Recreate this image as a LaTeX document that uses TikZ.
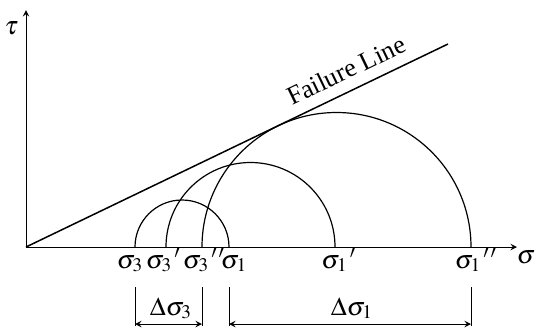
\documentclass[tikz,border=0pt]{standalone}
\usepackage{mathptmx}
\usepackage{fontspec}
\setmainfont{Liberation Serif}
\usetikzlibrary{positioning, arrows}

\begin{document}
\begin{tikzpicture}[>=stealth, x=0.5pt, y=0.5pt, font=\fontsize{13}{15}\selectfont,
    circ/.style={line width=0.6pt},
    dimline/.style={line width=0.45pt},
    lbl/.style={anchor=base, inner sep=0pt}]
  \useasboundingbox (0,0) rectangle (536,329);

  % Axes
  \coordinate (O) at (26,82);
  \coordinate (xend) at (517,82);
  \coordinate (yend) at (26,319);
  \draw[->, line width=0.45pt] (O) -- (xend);
  \draw[->, line width=0.45pt] (O) -- (yend);
  \node (tau) at (11.5,301) {$\tau$};
  \node (sig) at (526,72) {$\sigma$};

  % Failure line
  \coordinate (fl) at (448,285);
  \draw[line width=0.75pt] (O) -- (fl)
    node (fltext) [pos=0.78, sloped, above=2pt] {Failure Line};

  % Mohr circles
  \coordinate (a1) at (135,82);
  \coordinate (b1) at (229,82);
  \coordinate (a2) at (166,82);
  \coordinate (b2) at (335,82);
  \coordinate (a3) at (202,82);
  \coordinate (b3) at (471,82);
  \draw[circ] (b1) arc[start angle=0, end angle=180, radius=47];
  \draw[circ] (b2) arc[start angle=0, end angle=180, radius=84.5];
  \draw[circ] (b3) arc[start angle=0, end angle=180, radius=134.5];

  % Principal stresses
  \node (s3a) [lbl] at (130,61) {$\sigma_3$};
  \node (s3b) [lbl] at (159,61) {$\sigma_3\rlap{$^{\,\prime}$}$};
  \node (s3c) [lbl] at (196,61) {$\sigma_3\rlap{$^{\,\prime\,\prime}$}$};
  \node (s1a) [lbl] at (234,61) {$\sigma_1$};
  \node (s1b) [lbl] at (334.5,61) {$\sigma_1\rlap{$^{\,\prime}$}$};
  \node (s1c) [lbl] at (468,61) {$\sigma_1\rlap{$^{\,\prime\,\prime}$}$};

  % Stress increments
  \coordinate (d3lt) at (135,42);
  \coordinate (d3lb) at (135,3);
  \coordinate (d3rt) at (202,42);
  \coordinate (d3rb) at (202,3);
  \coordinate (d1lt) at (229,42);
  \coordinate (d1lb) at (229,3);
  \coordinate (d1rt) at (471,42);
  \coordinate (d1rb) at (471,3);
  \draw[dimline] (d3lt) -- (d3lb)
                 (d3rt) -- (d3rb)
                 (d1lt) -- (d1lb)
                 (d1rt) -- (d1rb);
  \draw[dimline, <->] ([yshift=1pt]d3lb) -- ([yshift=1pt]d3rb);
  \draw[dimline, <->] ([yshift=1pt]d1lb) -- ([yshift=1pt]d1rb);
  \node (ds3) [lbl] at (171,14) {$\Delta\sigma_3$};
  \node (ds1) [lbl] at (352,14) {$\Delta\sigma_1$};
\end{tikzpicture}
\end{document}
